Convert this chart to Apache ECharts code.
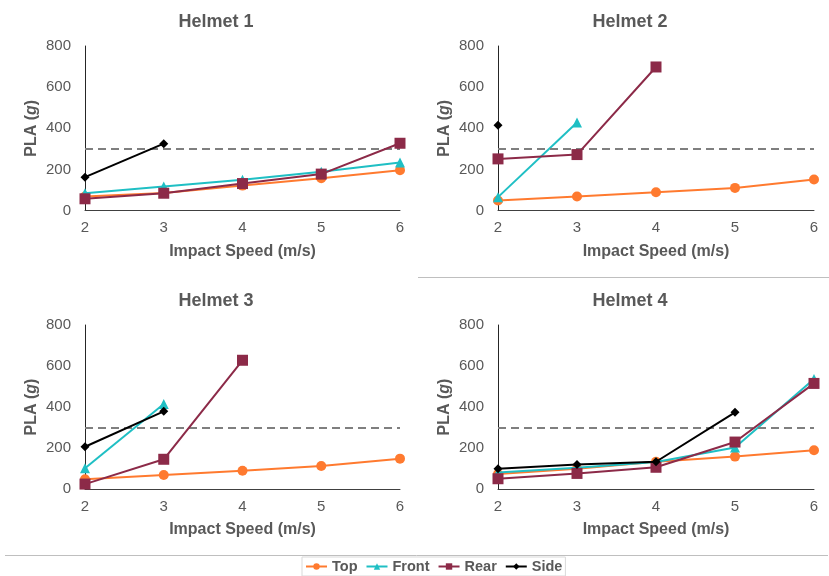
<!DOCTYPE html>
<html><head><meta charset="utf-8">
<script src="https://cdn.jsdelivr.net/npm/echarts@6/dist/echarts.min.js"></script>
<style>html,body{margin:0;padding:0;background:#fff}#c{width:829px;height:576px}</style>
</head><body><div id="c"></div>
<script>
const speeds = [2, 3, 4, 5, 6];
const seriesNames = ['Top', 'Front', 'Rear', 'Side'];
const helmetTitles = ['Helmet 1', 'Helmet 2', 'Helmet 3', 'Helmet 4'];
const yTicks = [0, 200, 400, 600, 800];
const threshold = 300;

// values per speed (null = not tested)
const h1Top   = [68, 85, 121, 157, 196];
const h1Front = [84, 117, 149, 189, 233];
const h1Rear  = [57, 84, 131, 177, 327];
const h1Side  = [162, 325, null, null, null];

const h2Top   = [49, 68, 89, 110, 151];
const h2Front = [65, 428, null, null, null];
const h2Rear  = [251, 272, 698, null, null];
const h2Side  = [415, null, null, null, null];

const h3Top   = [47, 68, 89, 112, 148];
const h3Front = [101, 415, null, null, null];
const h3Rear  = [24, 145, 628, null, null];
const h3Side  = [206, 379, null, null, null];

const h4Top   = [73, 99, 133, 158, 189];
const h4Front = [80, 104, 132, 202, 537];
const h4Rear  = [50, 76, 106, 229, 515];
const h4Side  = [99, 119, 133, 374, null];

const helmets = [
  [h1Top, h1Front, h1Rear, h1Side],
  [h2Top, h2Front, h2Rear, h2Side],
  [h3Top, h3Front, h3Rear, h3Side],
  [h4Top, h4Front, h4Rear, h4Side]
];

const colors = ['#FF7A2F', '#1FBFC4', '#8C2A48', '#000000'];
const symbols = ['circle', 'triangle', 'rect', 'diamond'];
const symbolSizes = [10, 10, 11, 9];

const grids = [
  {left: 85, top: 46, width: 315, height: 164.5},
  {left: 498, top: 46, width: 316, height: 164.5},
  {left: 85, top: 325, width: 315, height: 164},
  {left: 498, top: 325, width: 316, height: 164}
];
const titleCenters = [[211, 8], [625, 8], [211, 287], [625, 287]];

const txt = '#595959';
const font = 'Liberation Sans, Arial, sans-serif';

const option = {
  animation: false,
  backgroundColor: '#fff',
  textStyle: {fontFamily: font},
  title: helmetTitles.map((t, i) => ({
    text: t, left: titleCenters[i][0], top: titleCenters[i][1], textAlign: 'center',
    textStyle: {fontFamily: font, fontSize: 18, fontWeight: 'bold', color: txt}
  })),
  grid: grids,
  xAxis: grids.map((g, i) => ({
    type: 'value', gridIndex: i, min: 2, max: 6, interval: 1,
    name: 'Impact Speed (m/s)', nameLocation: 'middle', nameGap: 33,
    nameTextStyle: {fontFamily: font, fontSize: 16, fontWeight: 'bold', color: txt},
    axisLine: {show: true, onZero: false, lineStyle: {color: '#404040', width: 1}},
    axisTick: {show: false},
    splitLine: {show: false},
    axisLabel: {fontFamily: font, fontSize: 15, color: txt, margin: 10}
  })),
  yAxis: grids.map((g, i) => ({
    type: 'value', gridIndex: i, min: yTicks[0], max: yTicks[yTicks.length - 1], interval: 200,
    name: '{b|PLA (}{i|g}{b|)}', nameLocation: 'middle', nameGap: 45, nameRotate: 90,
    nameTextStyle: {
      rich: {
        b: {fontFamily: font, fontSize: 16, fontWeight: 'bold', color: txt},
        i: {fontFamily: font, fontSize: 16, fontWeight: 'bold', fontStyle: 'italic', color: txt}
      }
    },
    axisLine: {show: true, lineStyle: {color: '#262626', width: 1}},
    axisTick: {show: false},
    splitLine: {show: false},
    axisLabel: {fontFamily: font, fontSize: 15, color: txt, margin: 14}
  })),
  legend: {
    data: seriesNames,
    left: 302, top: 557,
    itemWidth: 21, itemHeight: 8, itemGap: 8,
    padding: [2, 3, 2, 3],
    borderColor: '#d9d9d9', borderWidth: 1,
    textStyle: {fontFamily: font, fontSize: 14.5, fontWeight: 'bold', color: txt}
  },
  graphic: [
    {type: 'line', shape: {x1: 418, y1: 277.5, x2: 829, y2: 277.5}, style: {stroke: '#bfbfbf', lineWidth: 1}},
    {type: 'line', shape: {x1: 5, y1: 555.5, x2: 828, y2: 555.5}, style: {stroke: '#bfbfbf', lineWidth: 1}}
  ],
  series: []
};

helmets.forEach((h, gi) => {
  h.forEach((vals, si) => {
    const data = [];
    vals.forEach((v, k) => { if (v !== null) data.push([speeds[k], v]); });
    const s = {
      name: seriesNames[si], type: 'line', xAxisIndex: gi, yAxisIndex: gi,
      data: data, symbol: symbols[si], symbolSize: symbolSizes[si], showSymbol: true,
      color: colors[si],
      lineStyle: {color: colors[si], width: 2},
      itemStyle: {color: colors[si]},
      z: 3 + si
    };
    if (si === 0) {
      s.markLine = {
        silent: true, symbol: 'none', label: {show: false},
        lineStyle: {color: '#7f7f7f', type: [8, 5], width: 2},
        data: [{yAxis: threshold}]
      };
    }
    option.series.push(s);
  });
});

const chart = echarts.init(document.getElementById('c'), null, {renderer: 'canvas'});
chart.setOption(option);
</script>
</body></html>
